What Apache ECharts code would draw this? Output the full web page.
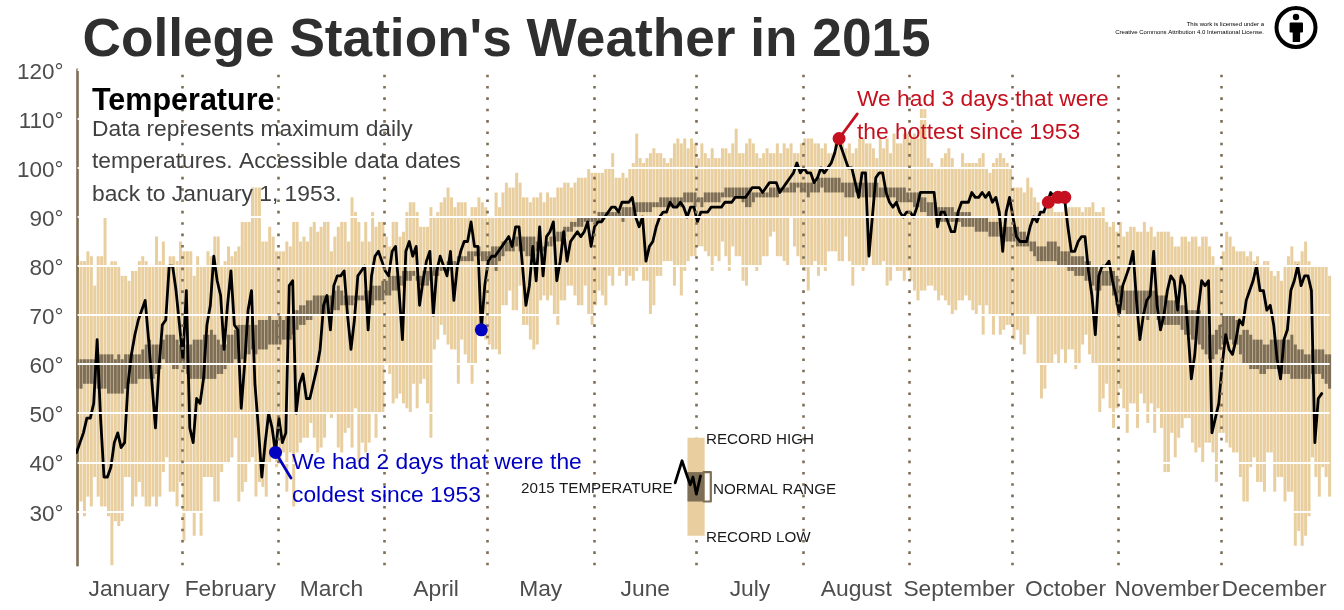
<!DOCTYPE html>
<html>
<head>
<meta charset="utf-8">
<script src="https://cdn.jsdelivr.net/npm/echarts@6/dist/echarts.min.js"></script>
<style>
html,body{margin:0;padding:0;background:#fff}
#main{width:1344px;height:610px}
</style>
</head>
<body>
<div id="main"></div>
<script>
// daily values, one row = 10 days, first value is Jan 1
var recordHigh = [
82,81,81,83,82,76,82,82,90,80, 81,81,80,78,78,77,79,79,81,82, 81,80,80,86,81,85,80,82,82,81,
85,83,83,83,78,82,80,80,83,82, 86,86,80,81,84,82,83,84,89,89, 89,96,96,96,85,85,88,86,83,83,
83,85,84,89,89,85,86,85,88,89, 87,88,89,89,83,86,88,89,89,85, 94,91,89,85,89,85,91,88,89,89,
86,84,89,89,86,87,91,93,93,91, 88,88,88,92,90,91,93,94,96,94, 92,93,93,93,90,92,92,94,93,92,
90,90,95,92,95,97,96,96,99,97, 94,94,93,94,94,95,93,95,94,94, 96,96,97,97,96,97,98,98,98,100,
99,99,99,99,100,100,103,98,98,99, 98,100,101,107,102,101,102,103,104,103, 103,102,101,102,105,106,105,106,104,106,
105,102,105,103,102,104,102,102,104,104, 103,105,108,103,103,105,106,105,103,102, 103,104,103,103,105,103,105,104,105,103,
103,105,106,106,106,105,105,104,105,103, 103,105,106,105,104,105,103,104,106,106, 105,105,104,102,106,104,106,103,107,105,
105,107,107,106,107,106,112,112,102,101, 100,100,102,103,104,102,100,100,103,101, 101,101,101,102,103,100,99,101,102,103,
102,101,100,96,96,96,95,98,96,94, 93,91,91,92,92,91,91,91,92,92, 92,92,92,91,92,92,93,91,91,92,
89,88,89,87,89,86,87,88,88,87, 87,89,87,88,86,87,87,87,87,86, 84,84,86,86,85,86,86,84,86,86,
84,82,80,80,83,87,86,84,83,83, 83,82,83,81,82,80,81,81,79,78, 79,77,80,82,84,81,81,83,85,81,
80,80,80,80,80,78];
var recordLow = [
30,32,29,33,31,37,33,31,31,29, 19,28,27,28,37,37,31,33,36,33, 31,31,33,31,33,38,41,34,34,31,
36,24,30,30,25,30,25,37,37,37, 32,32,38,40,40,41,45,32,34,36, 40,41,33,36,35,33,40,42,39,40,
42,34,42,31,42,44,45,45,48,45, 42,43,45,50,49,50,43,42,46,47, 43,51,40,44,42,44,50,45,50,50,
60,58,52,53,54,52,51,50,56,51, 56,57,52,45,63,65,68,66,64,63, 63,56,65,62,60,56,60,67,66,65,
64,63,63,62,72,72,75,71,71,76, 68,68,65,63,64,73,74,73,74,70, 68,73,73,76,76,74,72,72,76,70,
68,72,75,74,72,78,76,80,78,79, 76,78,77,79,80,77,77,70,72,78, 78,81,81,81,76,80,74,79,81,82,
82,84,84,83,82,79,82,81,85,82, 79,84,82,82,77,76,80,80,79,80, 82,82,86,87,82,82,81,80,90,84,
82,80,79,75,80,81,78,80,79,83, 83,83,81,81,86,81,76,80,80,79, 80,82,80,80,80,81,76,77,80,79,
79,77,79,77,75,73,75,75,76,76, 75,73,74,73,72,70,71,73,73,74, 73,71,70,72,66,72,70,66,70,66,
67,68,68,65,67,64,62,66,70,70, 60,53,55,60,60,62,60,63,60,63, 63,59,60,64,66,62,60,60,50,53,
56,51,47,51,55,51,46,52,52,47, 54,52,48,52,46,51,47,38,38,46, 41,45,47,49,49,44,42,43,40,44,
44,42,36,46,46,44,43,42,42,37, 32,32,39,41,36,36,34,42,42,34, 37,37,32,34,34,23,26,23,25,29,
41,37,33,39,37,33];
var normalHigh = [
61,61,61,61,61,61,62,62,62,62, 62,61,62,61,62,62,62,62,62,63, 64,65,64,64,64,65,66,66,66,65,
64,64,64,64,65,65,65,66,66,67, 66,65,64,64,66,66,67,68,68,68, 68,69,68,69,69,69,70,69,69,70,
69,70,70,71,71,72,72,73,73,74, 74,74,74,74,74,75,76,75,74,74, 74,74,74,74,75,75,76,76,76,77,
77,78,78,78,78,79,79,79,79,78, 78,79,79,79,80,80,80,80,81,81, 81,82,82,82,83,83,83,84,83,83,
83,84,84,84,85,85,85,85,86,86, 86,86,86,86,85,85,84,85,86,86, 87,87,88,88,89,89,90,90,90,90,
90,90,91,91,91,91,91,91,91,92, 92,92,92,93,93,93,93,93,93,93, 94,94,94,94,94,94,94,95,95,95,
95,94,94,95,95,95,95,95,95,96, 96,96,96,96,96,96,96,95,95,95, 95,95,96,96,96,96,96,96,97,97,
97,97,97,97,97,97,98,98,98,98, 98,98,98,97,97,97,97,97,97,97, 97,97,97,97,96,96,96,96,96,96,
96,96,95,95,95,95,94,94,93,93, 93,92,92,92,92,92,91,91,91,91, 91,90,90,90,90,90,89,89,89,89,
88,88,88,88,88,87,87,86,85,85, 84,84,84,85,85,85,84,83,83,83, 82,82,82,82,81,81,80,80,79,79,
79,79,79,78,76,75,75,75,75,75, 75,75,75,75,75,74,74,74,73,73, 73,72,72,72,71,71,71,71,70,70,
66,66,67,68,70,70,70,70,69,66, 67,67,66,65,65,65,64,64,65,65, 65,65,65,65,66,64,63,63,62,62,
63,63,63,63,62,62];
var normalLow = [
55,55,56,56,56,56,55,55,55,54, 54,54,54,54,55,56,56,56,57,57, 57,57,57,58,59,61,60,60,59,59,
60,59,58,57,57,57,57,57,57,57, 57,58,58,59,60,60,61,60,61,62, 62,63,62,63,63,63,64,64,64,64,
65,65,65,66,67,68,68,69,69,70, 70,70,70,70,71,71,71,72,72,72, 72,73,73,73,73,72,72,73,73,73,
74,74,75,75,76,76,77,77,78,77, 76,76,76,77,78,78,79,79,79,80, 80,81,81,81,81,81,82,82,81,81,
80,80,79,81,82,83,83,83,84,83, 83,82,82,82,83,83,83,84,84,85, 85,85,86,87,87,88,88,88,89,89,
89,89,89,89,90,90,90,90,90,89, 90,90,90,91,91,91,91,91,92,92, 92,92,92,92,92,92,92,93,93,93,
92,93,92,93,93,93,93,93,94,94, 94,94,94,94,93,92,92,93,94,94, 94,94,94,94,94,95,95,95,95,95,
96,95,95,94,95,95,95,96,95,95, 95,95,95,95,94,94,94,95,94,94, 94,94,94,94,94,94,94,94,94,93,
93,93,93,93,92,92,91,91,90,90, 90,90,89,89,89,89,89,89,88,88, 88,88,87,87,87,87,86,86,86,86,
85,85,85,85,84,84,84,84,83,82, 81,81,81,81,81,81,80,80,80,79, 79,78,78,78,77,77,76,75,75,76,
76,76,74,72,72,71,70,70,70,70, 70,70,69,70,70,69,68,68,68,68, 68,68,67,66,66,65,65,64,63,62,
61,61,62,63,64,65,65,64,64,62, 60,60,59,59,59,58,58,59,59,59, 59,58,58,58,57,57,57,57,57,57,
58,58,58,57,56,55];
var temp2015 = [
42,44,46,49,49,52,65,49,37,37, 39,44,46,43,44,56,62,66,69,71, 73,65,56,47,59,68,69,80,80,75,
68,61,75,47,44,53,52,57,68,72, 82,77,74,63,72,79,68,67,51,60, 71,75,56,47,37,44,50,47,42,49,
44,46,76,77,50,56,58,53,53,56, 59,63,72,74,67,76,78,78,79,70, 63,69,78,79,80,67,78,82,83,81,
79,78,83,84,75,65,83,85,82,84, 72,77,81,83,70,79,82,80,78,83, 73,80,83,85,85,89,84,84,67,76,
81,82,82,83,84,85,86,84,88,88, 80,72,76,84,77,88,78,86,87,89, 77,81,87,81,85,86,87,86,87,89,
84,88,89,89,90,91,92,92,91,93, 93,93,94,90,88,90,81,84,85,88, 90,91,91,93,92,92,93,92,90,92,
92,89,91,91,91,92,92,92,92,93, 93,93,94,94,94,94,95,96,96,96, 95,96,97,97,97,95,96,97,98,99,
101,99,100,99,99,97,98,100,99,100, 101,103,106,104,102,100,100,97,94,99, 99,82,90,98,99,99,95,93,92,93,
91,90,91,91,90,92,95,95,95,95, 95,88,91,91,89,87,87,91,93,93, 93,95,94,94,95,94,95,93,94,91,
83,91,94,90,86,85,85,85,88,90, 89,91,91,93,95,94,94,94,94,88, 83,83,85,86,86,79,74,66,78,80,
80,81,77,74,70,76,78,80,83,73, 65,70,73,74,83,72,67,70,75,78, 77,71,78,76,67,57,62,71,77,76,
77,46,49,52,60,66,63,62,65,69, 68,73,75,77,80,75,75,71,72,68, 61,57,65,67,75,77,80,76,78,78,
75,44,53,54];

var monthNames = ['January','February','March','April','May','June','July','August','September','October','November','December'];
var monthMids = [16,45.5,75,105.5,136,166.5,197,228,258,289,318.6,349.8];
var monthEdges = [31.5,59.5,90.5,120.5,151.5,181.5,212.5,243.5,273.5,304.5,334.5];
var gridValues = [30,40,50,60,70,80,90,100,110,120];

// record days and the leader lines to their captions, [day, degrees]
var coldDays = [[58.7,42],[118.7,67]];
var hotDays = [[223,106],[284,93],[286.8,94],[288.8,94]];
var coldLeader = [[58.7,42],[63.2,36.8]];
var hotLeader = [[223,106],[228.3,111]];

// how-to-read key, in the same day / degree units as the chart
var keyRecord = [[178.8,183.8,25,45]];
var keyNormal = [[178.8,183.8,32,38]];
var keyTemp = [[175.2,35.8],[177.2,40.3],[178.6,37.4],[179.6,35.4],[180.4,37],[181.4,33.5],[182.6,37.2]];
var keyBracket = [[183.5,38],[185.6,38],[185.6,32],[183.5,32]];

var brown = '#7d6e55';
var sand = '#e9cf9f';
var barWidth = 3;
var lineShift = -0.3; // the 2015 line sits a touch left of the bar centres

function rows(low, high){
    return low.map(function(v, i){ return [i + 1, v, high[i]]; });
}

function dayBar(color){
    return function(params, api){
        var a = api.coord([api.value(0), api.value(2)]);
        var b = api.coord([api.value(0), api.value(1)]);
        return {type: 'rect', shape: {x: a[0] - barWidth / 2, y: a[1], width: barWidth, height: b[1] - a[1]}, style: {fill: color}};
    };
}

function keyBar(color){
    return function(params, api){
        var a = api.coord([api.value(0), api.value(3)]);
        var b = api.coord([api.value(1), api.value(2)]);
        return {type: 'rect', shape: {x: a[0], y: a[1], width: b[0] - a[0], height: b[1] - a[1]}, style: {fill: color}};
    };
}

function plainLine(data, color, width, z){
    return {type: 'line', data: data, symbol: 'none', silent: true, z: z, animation: false,
        lineStyle: {color: color, width: width, join: 'round', cap: 'round'}};
}

function dots(data, color){
    return {type: 'scatter', data: data, symbolSize: 13, itemStyle: {color: color, opacity: 1}, z: 8, silent: true, animation: false};
}

function text(str, x, y, font, fill, align){
    return {type: 'text', z: 100, silent: true,
        style: {text: str, x: x, y: y, font: font, fill: fill, align: align || 'left', verticalAlign: 'middle'}};
}

var sans = '"Liberation Sans", Arial, sans-serif';
var bodyFont = '22.8px ' + sans;
var noteFont = '22.8px ' + sans;
var keyFont = '15.2px ' + sans;
var ccFont = '6px ' + sans;

var option = {
    animation: false,
    backgroundColor: '#fff',
    title: {
        text: "College Station's Weather in 2015",
        left: 77.5, top: 10,
        textStyle: {fontFamily: sans, fontWeight: 'bold', fontSize: 53.2, color: '#2f2f2f'}
    },
    grid: {left: 77.6, top: 69.8, width: 1252, height: 495.5},
    xAxis: {
        type: 'value', min: 1, max: 366,
        splitLine: {show: false}, axisLine: {show: false}, axisTick: {show: false},
        axisLabel: {
            customValues: monthMids, margin: 13, fontFamily: sans, fontSize: 22.8, color: '#4d4d4d',
            showMinLabel: true, showMaxLabel: true, hideOverlap: false,
            formatter: function(v){ return monthNames[monthMids.indexOf(v)]; }
        }
    },
    yAxis: {
        type: 'value', min: 19, max: 120, z: 3,
        splitLine: {show: false}, axisTick: {show: false},
        axisLine: {show: true, lineStyle: {color: brown, width: 2.6}},
        axisLabel: {
            customValues: gridValues, margin: 14,
            formatter: '{t|{value}°}',
            rich: {t: {fontFamily: sans, fontSize: 22.5, color: '#4d4d4d', padding: [6, 0, 0, 0]}}
        }
    },
    series: [
        {type: 'custom', data: rows(recordLow, recordHigh), renderItem: dayBar(sand), z: 1, silent: true},
        {type: 'custom', data: rows(normalLow, normalHigh), renderItem: dayBar(brown), z: 1, silent: true},
        plainLine(temp2015.map(function(v, i){ return [i + 1 + lineShift, v]; }), '#000', 2.8, 4),
        // white rules and dotted month edges sit over the temperature line
        {type: 'line', data: [], z: 5, silent: true,
            markLine: {silent: true, symbol: 'none', animation: false, label: {show: false},
                lineStyle: {color: '#fff', width: 2, type: 'solid'},
                data: gridValues.map(function(v){ return {yAxis: v}; })}},
        {type: 'line', data: [], z: 6, silent: true,
            markLine: {silent: true, symbol: 'none', animation: false, label: {show: false},
                lineStyle: {color: brown, width: 2.6, type: [2.6, 8.75]},
                data: monthEdges.map(function(v){ return {xAxis: v}; })}},
        plainLine(coldLeader, '#0000c0', 2.8, 7),
        plainLine(hotLeader, '#c4101f', 2.8, 7),
        dots(coldDays, '#0000c0'),
        dots(hotDays, '#c4101f'),
        {type: 'custom', data: keyRecord, renderItem: keyBar(sand), z: 7, silent: true},
        {type: 'custom', data: keyNormal, renderItem: keyBar(brown), z: 7, silent: true},
        plainLine(keyBracket, brown, 2.2, 7),
        plainLine(keyTemp, '#000', 2.8, 8)
    ],
    graphic: [
        text('Temperature', 92, 102, 'bold 30.5px ' + sans, '#000'),
        text('Data represents maximum daily', 92, 130, bodyFont, '#404040'),
        text('temperatures. Accessible data dates', 92, 162, bodyFont, '#404040'),
        text('back to January 1, 1953.', 92, 195, bodyFont, '#404040'),
        text('We had 3 days that were', 857, 100, noteFont, '#c4101f'),
        text('the hottest since 1953', 857, 133, noteFont, '#c4101f'),
        text('We had 2 days that were the', 292, 463, noteFont, '#0000c0'),
        text('coldest since 1953', 292, 496, noteFont, '#0000c0'),
        text('RECORD HIGH', 706, 440, keyFont, '#1a1a1a'),
        text('RECORD LOW', 706, 538, keyFont, '#1a1a1a'),
        text('2015 TEMPERATURE', 521, 489, keyFont, '#1a1a1a'),
        text('NORMAL RANGE', 713, 490, keyFont, '#1a1a1a'),
        text('This work is licensed under a', 1264, 24.5, ccFont, '#000', 'right'),
        text('Creative Commons Attribution 4.0 International License.', 1264, 32, ccFont, '#000', 'right'),
        // attribution badge
        {type: 'circle', z: 100, silent: true, shape: {cx: 1296, cy: 27.5, r: 19.5}, style: {fill: '#fff', stroke: '#000', lineWidth: 4}},
        {type: 'circle', z: 100, silent: true, shape: {cx: 1296, cy: 17, r: 3.2}, style: {fill: '#000'}},
        {type: 'rect', z: 100, silent: true, shape: {x: 1289.6, y: 22.5, width: 13.4, height: 10, r: 1}, style: {fill: '#000'}},
        {type: 'rect', z: 100, silent: true, shape: {x: 1292.7, y: 30, width: 7.4, height: 12}, style: {fill: '#000'}}
    ]
};

var myChart = echarts.init(document.getElementById('main'));
myChart.setOption(option);
</script>
</body>
</html>
